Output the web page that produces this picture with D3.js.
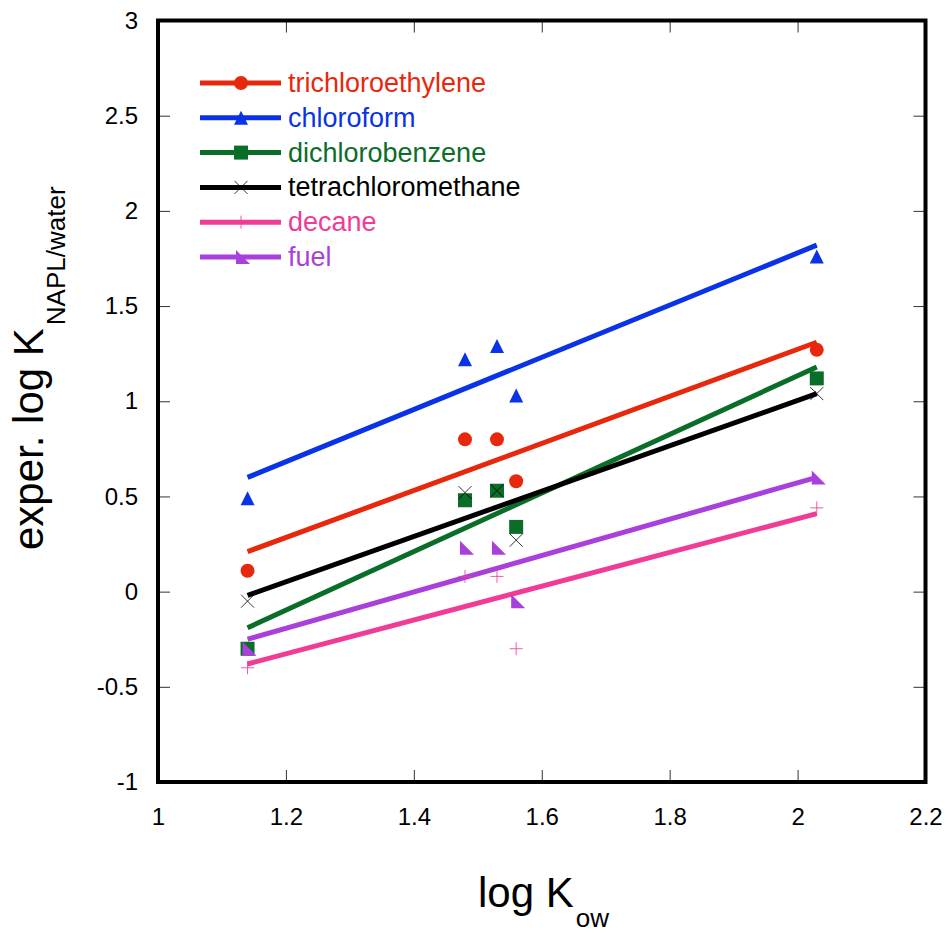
<!DOCTYPE html>
<html>
<head>
<meta charset="utf-8">
<script src="https://cdn.jsdelivr.net/npm/d3@7"></script>
<style>
  html, body { margin: 0; padding: 0; background: #fff; }
  svg { display: block; font-family: "Liberation Sans", Arial, Helvetica, sans-serif; }
</style>
</head>
<body>
<svg id="chart" width="948" height="933"></svg>
<script>
// ---- data ----
const logKow = [1.14, 1.48, 1.53, 1.56, 2.03];
const seriesNames = ["trichloroethylene", "chloroform", "dichlorobenzene", "tetrachloromethane", "decane", "fuel"];
const trichloroethylene = [0.11, 0.80, 0.80, 0.58, 1.27];
const chloroform        = [0.49, 1.22, 1.29, 1.03, 1.76];
const dichlorobenzene   = [-0.30, 0.48, 0.53, 0.34, 1.12];
const tetrachloromethane= [-0.05, 0.52, 0.53, 0.27, 1.04];
const decane            = [-0.40, 0.08, 0.08, -0.30, 0.44];
const fuel              = [-0.30, 0.23, 0.23, -0.05, 0.60];
// fitted lines, evaluated at x = 1.14 and 2.03
const fitX     = [1.14, 2.03];
const fitStart = [0.21, 0.60, -0.19, -0.02, -0.38, -0.25];
const fitEnd   = [1.31, 1.82, 1.18, 1.04, 0.41, 0.60];
const xTicks = [1, 1.2, 1.4, 1.6, 1.8, 2, 2.2];
const yTicks = [-1, -0.5, 0, 0.5, 1, 1.5, 2, 2.5, 3];

const seriesValues = [trichloroethylene, chloroform, dichlorobenzene, tetrachloromethane, decane, fuel];
const colors = ["#e8280c", "#0a32e6", "#0a6e28", "#000000", "#f03c96", "#aa40dc"];
const markers = ["circle", "triangle", "square", "cross", "plus", "rtri"];

(function () {
const svg = d3.select("#chart");
const pLeft = 158, pRight = 925.5, pTop = 20.5, pBottom = 782;
const x = d3.scaleLinear().domain([1, 2.2]).range([pLeft, pRight]);
const y = d3.scaleLinear().domain([-1, 3]).range([pBottom, pTop]);

// ticks (inward, all four sides)
const tickLen = 12;
const tickColor = "#333";
const fmt = d => String(d);
svg.append("g").attr("transform", `translate(0,${pBottom})`)
  .call(d3.axisBottom(x).tickValues(xTicks).tickSize(-tickLen).tickPadding(26).tickFormat(fmt))
  .call(g => { g.select(".domain").remove();
    g.selectAll("line").attr("stroke", tickColor).attr("stroke-width", 1);
    g.selectAll("text").attr("font-size", 24).attr("fill", "#000").attr("font-family", "Liberation Sans, Arial, sans-serif"); });
svg.append("g").attr("transform", `translate(0,${pTop})`)
  .call(d3.axisTop(x).tickValues(xTicks).tickSize(-tickLen).tickFormat(""))
  .call(g => { g.select(".domain").remove(); g.selectAll("line").attr("stroke", tickColor); });
svg.append("g").attr("transform", `translate(${pLeft},0)`)
  .call(d3.axisLeft(y).tickValues(yTicks).tickSize(-tickLen).tickPadding(20).tickFormat(fmt))
  .call(g => { g.select(".domain").remove();
    g.selectAll("line").attr("stroke", tickColor).attr("stroke-width", 1);
    g.selectAll("text").attr("font-size", 24).attr("fill", "#000").attr("font-family", "Liberation Sans, Arial, sans-serif"); });
svg.append("g").attr("transform", `translate(${pRight},0)`)
  .call(d3.axisRight(y).tickValues(yTicks).tickSize(-tickLen).tickFormat(""))
  .call(g => { g.select(".domain").remove(); g.selectAll("line").attr("stroke", tickColor); });

// frame
svg.append("rect").attr("x", pLeft).attr("y", pTop).attr("width", pRight - pLeft).attr("height", pBottom - pTop)
  .attr("fill", "none").attr("stroke", "#000").attr("stroke-width", 4);

// marker paths
function markerPath(type) {
  switch (type) {
    case "circle": return d3.symbol(d3.symbolCircle, Math.PI * 7 * 7)();
    case "triangle": return "M0,-7L7,7L-7,7Z";
    case "square": return "M-7,-7H7V7H-7Z";
    case "cross": return "M-6.5,-6.5L6.5,6.5M-6.5,6.5L6.5,-6.5";
    case "plus": return "M-6.5,0H6.5M0,-6.5V6.5";
    case "rtri": return "M-5,-7L9,7L-5,7Z";
  }
}
function drawMarker(g, type, color) {
  const p = g.append("path").attr("d", markerPath(type));
  if (type === "cross" || type === "plus") {
    p.attr("fill", "none").attr("stroke", color).attr("stroke-width", 1)
     .attr("stroke-opacity", type === "plus" ? 0.85 : 0.8);
  } else {
    p.attr("fill", color);
  }
}

// fit lines
const lineGen = d3.line().x(d => x(d[0])).y(d => y(d[1]));
seriesNames.forEach((name, i) => {
  svg.append("path")
    .datum([[fitX[0], fitStart[i]], [fitX[1], fitEnd[i]]])
    .attr("d", lineGen)
    .attr("fill", "none").attr("stroke", colors[i]).attr("stroke-width", 5);
});

// data points
seriesNames.forEach((name, i) => {
  seriesValues[i].forEach((v, j) => {
    const g = svg.append("g").attr("transform", `translate(${x(logKow[j])},${y(v)})`);
    drawMarker(g, markers[i], colors[i]);
  });
});

// legend
const legendY0 = 83, legendDy = 34.8;
seriesNames.forEach((name, i) => {
  const yy = legendY0 + i * legendDy;
  const lg = svg.append("g").attr("transform", `translate(0,${yy})`);
  lg.append("line").attr("x1", 200).attr("x2", 281).attr("y1", 0).attr("y2", 0)
    .attr("stroke", colors[i]).attr("stroke-width", 5);
  const mg = lg.append("g").attr("transform", "translate(241,0)");
  drawMarker(mg, markers[i], colors[i]);
  lg.append("text").attr("x", 288).attr("y", 9).attr("font-size", 27)
    .attr("fill", colors[i]).text(name);
});

// axis titles
const xt = svg.append("text").attr("x", 478).attr("y", 907).attr("font-size", 42).attr("fill", "#000");
xt.append("tspan").text("log K");
xt.append("tspan").attr("dx", 2).attr("dy", 20).attr("font-size", 26).text("ow");

const yt = svg.append("text").attr("transform", "translate(43,550) rotate(-90)")
  .attr("font-size", 42).attr("fill", "#000");
yt.append("tspan").text("exper. log K");
yt.append("tspan").attr("dx", 3).attr("dy", 22).attr("font-size", 26).text("NAPL/water");
})();
</script>
</body>
</html>
